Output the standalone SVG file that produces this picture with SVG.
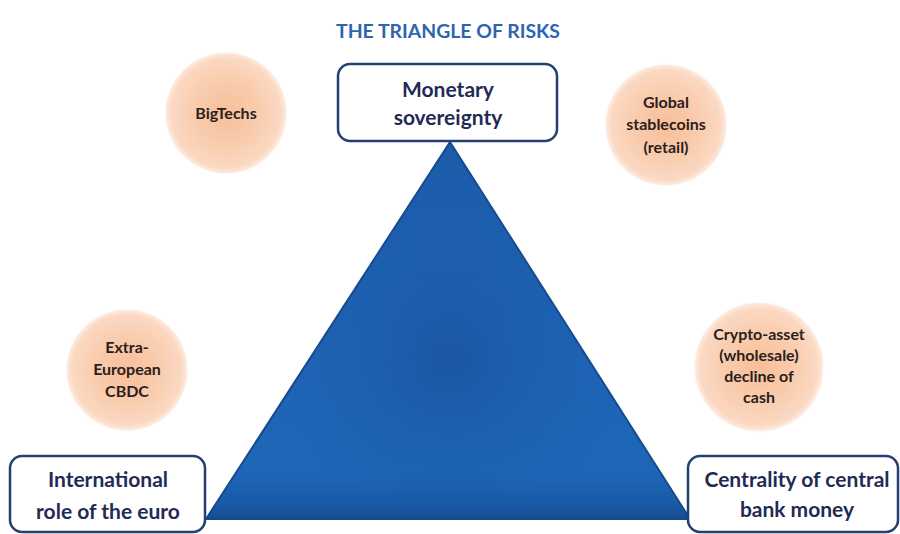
<svg xmlns="http://www.w3.org/2000/svg" width="900" height="534" viewBox="0 0 900 534">
  <defs>
    <radialGradient id="peach" cx="0.5" cy="0.5" r="0.5">
      <stop offset="0" stop-color="#F7BE98"/>
      <stop offset="0.55" stop-color="#F9CDAF"/>
      <stop offset="0.88" stop-color="#FBD8C2"/>
      <stop offset="0.96" stop-color="#FCE2D2" stop-opacity="0.8"/>
      <stop offset="1" stop-color="#FFFFFF" stop-opacity="0"/>
    </radialGradient>
    <linearGradient id="triLin" x1="0" y1="0" x2="0" y2="1">
      <stop offset="0" stop-color="#1B5BAA"/>
      <stop offset="0.5" stop-color="#1E63B5"/>
      <stop offset="0.88" stop-color="#1D66B7"/>
      <stop offset="0.96" stop-color="#1A5AA6"/>
      <stop offset="1" stop-color="#164C90"/>
    </linearGradient>
    <radialGradient id="triRad" gradientUnits="userSpaceOnUse" cx="450" cy="360" r="170">
      <stop offset="0" stop-color="#16468C" stop-opacity="0.45"/>
      <stop offset="0.5" stop-color="#184F98" stop-opacity="0.2"/>
      <stop offset="1" stop-color="#1B56A3" stop-opacity="0"/>
    </radialGradient>
  </defs>
  <style>
    .title { font-family: Lato, "Liberation Sans", sans-serif; font-weight: 700; font-size: 18px; fill: #2F64AE; }
    .box { fill: #FFFFFF; stroke: #243F73; stroke-width: 2.5; }
    .boxtxt { font-family: Lato, "Liberation Sans", sans-serif; font-weight: 700; font-size: 21px; fill: #1F2B55; text-anchor: middle; }
    .circ { fill: url(#peach); }
    .ctxt { font-family: Lato, "Liberation Sans", sans-serif; font-weight: 700; font-size: 16px; fill: #2A201C; text-anchor: middle; }
  </style>
  <rect width="900" height="534" fill="#FFFFFF"/>

  <text class="title" x="336" y="38" textLength="224" lengthAdjust="spacingAndGlyphs">THE TRIANGLE OF RISKS</text>

  <g id="connectors">
    <g id="triangle">
      <polygon points="450,142 206,519 690,519" fill="url(#triLin)" stroke="#174A8C" stroke-width="2" stroke-linejoin="round"/>
      <polygon points="450,142 206,519 690,519" fill="url(#triRad)"/>
    </g>
  </g>

  <g id="bigtechs">
    <circle class="circ" cx="226" cy="113" r="62"/>
    <text class="ctxt" x="226" y="119">BigTechs</text>
  </g>

  <g id="stablecoins">
    <circle class="circ" cx="666" cy="125" r="62"/>
    <text class="ctxt" x="666" y="108">Global</text>
    <text class="ctxt" x="666" y="130">stablecoins</text>
    <text class="ctxt" x="666" y="153">(retail)</text>
  </g>

  <g id="cbdc">
    <circle class="circ" cx="127" cy="370" r="62"/>
    <text class="ctxt" x="127" y="353">Extra-</text>
    <text class="ctxt" x="127" y="375">European</text>
    <text class="ctxt" x="127" y="397">CBDC</text>
  </g>

  <g id="crypto">
    <circle class="circ" cx="759" cy="367" r="66"/>
    <text class="ctxt" x="759" y="340">Crypto-asset</text>
    <text class="ctxt" x="759" y="361">(wholesale)</text>
    <text class="ctxt" x="759" y="382">decline of</text>
    <text class="ctxt" x="759" y="403">cash</text>
  </g>

  <g id="monetary-sovereignty">
    <rect class="box" x="338" y="64" width="219" height="77" rx="12"/>
    <text class="boxtxt" x="448" y="97">Monetary</text>
    <text class="boxtxt" x="448" y="125">sovereignty</text>
  </g>

  <g id="international-role">
    <rect class="box" x="10" y="456" width="195" height="76" rx="12"/>
    <text class="boxtxt" x="108" y="487">International</text>
    <text class="boxtxt" x="108" y="519">role of the euro</text>
  </g>

  <g id="centrality">
    <rect class="box" x="688" y="456" width="210" height="76" rx="12"/>
    <text class="boxtxt" x="797" y="487">Centrality of central</text>
    <text class="boxtxt" x="797" y="517">bank money</text>
  </g>
</svg>
